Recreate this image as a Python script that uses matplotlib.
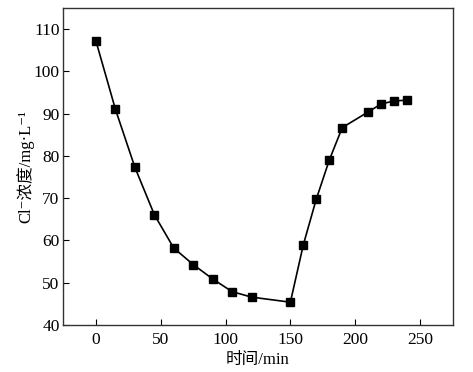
import matplotlib
matplotlib.use("Agg")
import matplotlib.pyplot as plt

time_min = [0, 15, 30, 45, 60, 75, 90, 105, 120, 150, 160, 170, 180, 190, 210, 220, 230, 240]
cl_conc = [107.1, 91.0, 77.3, 66.1, 58.2, 54.3, 50.9, 47.9, 46.6, 45.4, 59.0, 69.8, 79.0, 86.7, 90.4, 92.3, 93.0, 93.2]
xticks = [0, 50, 100, 150, 200, 250]
yticks = [40, 50, 60, 70, 80, 90, 100, 110]

fam = ['Liberation Serif', 'Noto Sans CJK SC', 'DejaVu Serif']
plt.rcParams['font.family'] = fam

fig = plt.figure(figsize=(4.73, 3.72), dpi=100)
ax = fig.add_axes([0.1332, 0.1263, 0.8245, 0.8522])
ax.plot(time_min, cl_conc, color='black', linewidth=1.2, marker='s', markersize=5.8,
        markerfacecolor='black', markeredgecolor='black')
ax.set_xlim(-25.5, 275.5)
ax.set_ylim(40, 115)
ax.set_xticks(xticks)
ax.set_yticks(yticks)
ax.tick_params(direction='in', length=4.5, width=0.8, labelsize=12.5, colors='black')
ax.tick_params(axis='y', pad=2.5)
ax.tick_params(axis='x', pad=5)
for s in ax.spines.values():
    s.set_color('#333333')
    s.set_linewidth(1.0)
ax.set_xlabel('时间/min', fontsize=12, labelpad=3)
ax.set_ylabel('Cl⁻浓度/mg·L⁻¹', fontsize=12)
ax.yaxis.set_label_coords(-0.074, 0.5)
fig.savefig('out.png', dpi=100)
